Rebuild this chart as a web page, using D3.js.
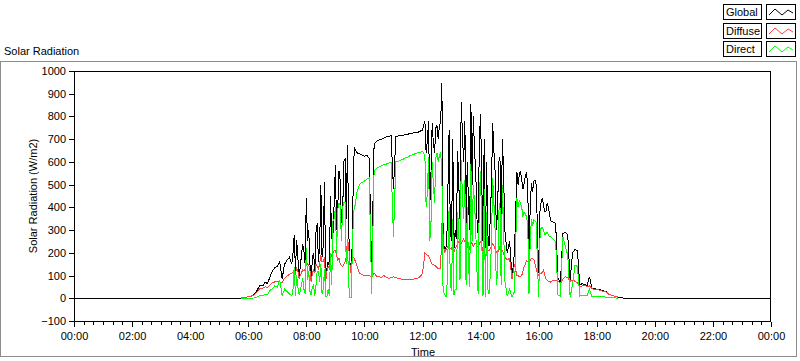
<!DOCTYPE html>
<html><head><meta charset="utf-8">
<script src="https://cdn.jsdelivr.net/npm/d3@7"></script>
<style>
body{margin:0;background:#fff;}
text{font-family:"Liberation Sans",Arial,sans-serif;font-size:11px;fill:#000;}
</style></head><body>
<svg id="c" width="800" height="361"></svg>
<script>
// ---- data: 5-minute samples from 05:40 to 19:00 ----
const dayStartMin = 340, stepMin = 5;
const globalRad = [
 0,1,3,5,6,9,13,22,42,58,
 55,70,65,95,120,135,140,160,85,150,
 168,180,150,277,255,92,190,207,440,300,
 75,200,290,160,500,230,80,160,450,280,
 585,400,520,380,615,675,160,250,660,640,
 635,630,625,630,615,110,680,690,697,700,
 705,710,712,715,480,712,714,716,718,720,
 722,725,727,728,730,735,740,780,690,400,
 770,640,760,765,948,210,230,740,250,220,
 260,500,865,600,330,420,855,800,560,280,
 810,250,220,280,350,770,560,380,620,700,
 300,200,250,90,200,555,545,520,505,555,
 170,505,515,500,110,420,410,380,400,340,
 335,330,90,70,285,290,280,80,200,215,
 210,57,65,60,55,95,45,42,40,38,
 35,32,28,18,14,10,8,4,2,1,0];
const diffuseRad = [
 null,1,3,5,6,9,12,20,32,45,
 45,50,48,58,68,72,75,72,70,88,
 98,105,110,125,130,88,112,120,160,150,
 70,125,150,130,190,160,70,140,180,200,
 212,170,150,140,160,260,150,185,170,140,
 110,105,100,98,100,95,110,98,95,90,
 100,92,88,90,95,90,88,85,84,83,
 85,83,84,86,88,95,110,200,190,175,
 150,145,135,130,330,200,220,230,215,205,
 230,250,240,260,230,210,250,230,240,230,
 250,200,190,210,220,240,215,200,230,210,
 180,170,175,85,150,100,95,100,140,165,
 150,175,170,130,100,110,125,85,75,70,
 80,80,75,65,85,95,90,75,80,75,
 68,50,55,58,50,55,42,40,38,36,
 33,30,27,18,14,10,8,4,null,null,null];
const directRad = [
 null,0,0,0,0,0,1,2,8,12,
 10,18,15,35,42,55,50,80,12,40,
 30,20,10,136,100,15,60,40,220,120,
 15,60,60,120,150,40,8,40,200,340,
 400,390,410,400,420,250,5,200,400,470,
 500,510,515,525,530,20,560,572,578,582,
 588,590,595,598,270,600,603,607,612,618,
 622,628,632,636,640,642,645,620,460,250,
 600,420,640,630,560,20,10,400,30,15,
 40,300,610,350,60,150,590,500,300,20,
 560,10,5,40,100,530,300,100,420,500,
 80,10,40,5,30,440,430,400,380,360,
 20,350,345,335,5,310,300,285,280,270,
 260,250,15,10,270,230,190,5,60,145,
 140,10,12,14,12,40,8,8,7,7,
 6,6,5,4,3,2,1,0,null,null,null];
// extra samples inside the fast-fluctuating (cloudy) periods, minutes of day
const extraTimes = [
 452.5,457.5,462.5,467.5,472.5,477.5,
 482.5,487.5,492.5,497.5,502.5,507.5,512.5,517.5,522.5,527.5,532.5,537.5,542.5,547.5,552.5,557.5,562.5,567.5,572.5,577.5,
 722.5,727.5,732.5,737.5,742.5,747.5,752.5,757.5,
 762.5,767.5,772.5,777.5,782.5,787.5,792.5,797.5,802.5,807.5,812.5,817.5,822.5,827.5,832.5,837.5,842.5,847.5,852.5,857.5,862.5,867.5,872.5,877.5,882.5,887.5,
 917.5,922.5,927.5,932.5,937.5,942.5,947.5,952.5,957.5,962.5,967.5,972.5,977.5,982.5];
const extraGlobal = [
 200,120,180,140,240,150,
 250,150,180,120,330,230,180,510,130,140,260,420,300,560,330,600,350,300,120,600,
 760,640,780,550,680,750,700,770,
 300,220,480,300,700,300,650,350,720,780,600,300,500,650,350,700,500,700,600,230,500,650,300,600,300,560,
 500,560,480,540,480,400,470,520,300,380,440,380,420,370];
const extraDiffuse = [
 115,110,120,100,125,130,
 150,120,110,110,140,150,160,180,120,130,190,210,190,175,145,150,180,230,110,180,
 150,195,185,160,150,140,130,130,
 280,210,230,220,240,220,240,240,250,250,240,220,240,240,230,240,230,200,200,210,230,230,205,210,220,200,
 100,95,120,150,160,165,175,150,110,105,115,100,80,75];
const extraDirect = [
 40,10,50,30,90,20,
 80,30,50,10,120,70,20,130,5,10,60,350,200,420,250,420,150,60,5,380,
 640,400,620,330,500,620,600,640,
 30,10,200,60,350,40,380,80,450,520,400,50,250,420,120,460,250,480,380,20,250,420,60,380,60,320,
 400,420,360,370,320,250,320,340,150,260,310,280,290,270];

const seriesNames = ["Global","Diffuse","Direct"];
const seriesColors = ["#000000","#ff4040","#00ff00"];
const yTicks = [-100,0,100,200,300,400,500,600,700,800,900,1000];
const xMajorTicks = [0,120,240,360,480,600,720,840,960,1080,1200,1320,1440];

// ---- chart ----
const svg = d3.select("#c");
const L=74, R=771, T=71, B=321;
const x = d3.scaleLinear().domain([0,1440]).range([L,R]);
const y = d3.scaleLinear().domain([-100,1000]).range([B,T]);

svg.append("rect").attr("x",0.5).attr("y",61.5).attr("width",796).attr("height",295)
  .attr("fill","none").attr("stroke","#8c8c8c");
svg.append("text").attr("x",4).attr("y",55).text("Solar Radiation");
svg.append("rect").attr("x",L).attr("y",T).attr("width",R-L).attr("height",B-T).attr("fill","#fff");

function series(base, extra, pad){
  const p = base.map((v,i)=>({t:dayStartMin+i*stepMin, v:v}));
  extra.forEach((v,i)=>p.push({t:extraTimes[i], v:v}));
  p.sort((a,b)=>a.t-b.t);
  if(pad){ p.unshift({t:0,v:0}); p.push({t:1440,v:0}); }
  return p;
}
const line = d3.line().defined(d=>d.v!==null).x(d=>x(d.t)).y(d=>y(d.v));
const g = svg.append("g").attr("shape-rendering","crispEdges");
[[globalRad,extraGlobal,true],[diffuseRad,extraDiffuse,false],[directRad,extraDirect,false]].forEach(([arr,ex,pad],k)=>{
  g.append("path").attr("d",line(series(arr,ex,pad))).attr("fill","none")
   .attr("stroke",seriesColors[k]).attr("stroke-width",1);
});

svg.append("rect").attr("x",L+0.5).attr("y",T+0.5).attr("width",R-L-1).attr("height",B-T)
  .attr("fill","none").attr("stroke","#000").attr("shape-rendering","crispEdges");

const ya = svg.append("g").attr("transform",`translate(${L},0)`)
  .call(d3.axisLeft(y).tickValues(yTicks).tickSize(5).tickPadding(3).tickFormat(d3.format("d")));
ya.select(".domain").remove();
ya.selectAll("text").style("font-family","Liberation Sans").style("font-size","11px");
ya.selectAll("line").attr("shape-rendering","crispEdges");

const fmt = m => { const h=Math.floor(m/60)%24, mm=m%60; return String(h).padStart(2,"0")+":"+String(mm).padStart(2,"0"); };
const xa = svg.append("g").attr("transform",`translate(0,${B+1})`)
  .call(d3.axisBottom(x).tickValues(xMajorTicks).tickSize(5).tickPadding(5).tickFormat(fmt));
xa.select(".domain").remove();
xa.selectAll("text").style("font-family","Liberation Sans").style("font-size","11px");
xa.selectAll("line").attr("shape-rendering","crispEdges");
const minor = d3.range(0,1441,20).filter(m=>m%120!==0);
const xm = svg.append("g").attr("transform",`translate(0,${B+1})`)
  .call(d3.axisBottom(x).tickValues(minor).tickSize(3).tickFormat(""));
xm.select(".domain").remove();
xm.selectAll("line").attr("shape-rendering","crispEdges");

svg.append("text").attr("x",423).attr("y",356).attr("text-anchor","middle").text("Time");
svg.append("text").attr("transform","translate(37,196) rotate(-90)").attr("text-anchor","middle")
  .text("Solar Radiation (W/m2)");

seriesNames.forEach((n,k)=>{
  const t0 = Math.round(4 + k*18.5);
  const lg = svg.append("g").attr("shape-rendering","crispEdges");
  lg.append("rect").attr("x",723.5).attr("y",t0+0.5).attr("width",38).attr("height",15)
    .attr("fill","#fff").attr("stroke","#000");
  lg.append("rect").attr("x",766.5).attr("y",t0+0.5).attr("width",29).attr("height",15)
    .attr("fill","#fff").attr("stroke","#000");
  svg.append("text").attr("x",726).attr("y",t0+12).text(n);
  svg.append("polyline").attr("points",
    `769,${t0+11} 775,${t0+5} 782,${t0+11} 788,${t0+6} 793,${t0+9}`)
    .attr("fill","none").attr("stroke",seriesColors[k]).attr("stroke-width",1);
});
</script></body></html>
